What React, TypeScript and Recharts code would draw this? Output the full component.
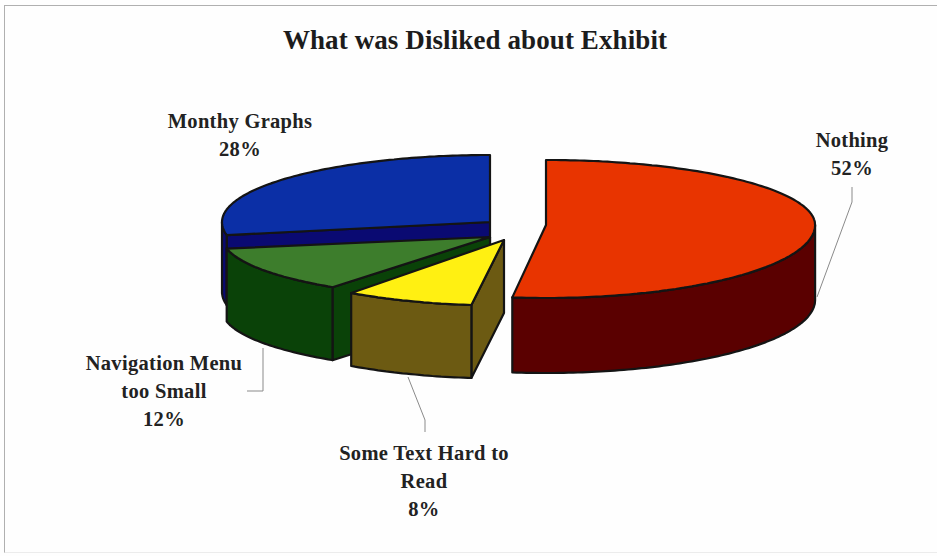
import React from 'react';
import { PieChart, Pie } from 'recharts';

// Survey answers, listed counter-clockwise from 12 o'clock so the front slices paint last
const categories = ['Monthy Graphs', 'Navigation Menu too Small', 'Some Text Hard to Read', 'Nothing'];
const shares = [28, 12, 8, 52];
const labelLines = [['Monthy Graphs'], ['Navigation Menu', 'too Small'], ['Some Text Hard to', 'Read'], ['Nothing']];

const pieData = categories.map((name, i) => ({ name, value: shares[i] }));

const OUTER_RADIUS = 268;
const CENTER_X = 500;
const CENTER_Y = 232;

// Exploded offset, tilt and colours for each slice
const sliceStyles = [
    { dx: -10, dy: -10, rx: 1, ryBack: 67, ryFront: 70, depth: 70, top: '#0b2fa6', side: '#0a0a72' },
    { dx: -10, dy: 5, rx: 1, ryBack: 62, ryFront: 62, depth: 73, top: '#3d7d2c', side: '#0a4208' },
    { dx: 4, dy: 8, rx: 0.97, ryBack: 65.5, ryFront: 65.5, depth: 73, top: '#fff012', side: '#6c5a12' },
    { dx: 46, dy: -7, rx: 1.004, ryBack: 65, ryFront: 73, depth: 75, top: '#e83400', side: '#5a0000' },
];

const labelSpots = [
    { x: 240, y: 128 },
    { x: 164, y: 370 },
    { x: 424, y: 460 },
    { x: 852, y: 147 },
];
const LINE_HEIGHT = 28;

const leaders = [
    null,
    '263,348 263,391 247,391',
    '408,377 425,420 425,432',
    '852,187 852,202 817,297',
];

const toRad = (deg: number) => (deg * Math.PI) / 180;

const Slice3D = (props: any) => {
    const { cx, cy, outerRadius, startAngle, endAngle, index } = props;
    const s = sliceStyles[index];
    const ox = cx + s.dx;
    const oy = cy + s.dy;
    const rx = outerRadius * s.rx;
    const a0 = Math.min(startAngle, endAngle);
    const a1 = Math.max(startAngle, endAngle);

    const rim = (deg: number): [number, number] => {
        const sin = Math.sin(toRad(deg));
        return [ox + rx * Math.cos(toRad(deg)), oy - (sin > 0 ? s.ryBack : s.ryFront) * sin];
    };
    const arc = (from: number, to: number) => {
        const pts: [number, number][] = [];
        for (let d = from; d < to; d += 1) pts.push(rim(d));
        pts.push(rim(to));
        return pts;
    };
    const toPath = (pts: [number, number][]) =>
        'M' + pts.map(p => `${p[0].toFixed(1)},${p[1].toFixed(1)}`).join('L') + 'Z';

    const walls: string[] = [];
    // cut face on the leading edge, only when it turns towards the viewer
    if (Math.cos(toRad(a1)) < -0.001) {
        const e = rim(a1);
        walls.push(toPath([[ox, oy], e, [e[0], e[1] + s.depth], [ox, oy + s.depth]]));
    }
    // outer rim wall, only the front half of the ellipse shows
    const from = Math.max(a0, 180);
    const to = Math.min(a1, 360);
    if (to > from) {
        const pts = arc(from, to);
        const lower = pts.map(p => [p[0], p[1] + s.depth] as [number, number]).reverse();
        walls.push(toPath([...pts, ...lower]));
    }

    return (
        <g>
            {walls.map((d, i) => (
                <path key={i} d={d} fill={s.side} stroke="#141414" strokeWidth={2.2} strokeLinejoin="round" />
            ))}
            <path d={toPath([[ox, oy], ...arc(a0, a1)])} fill={s.top} stroke="#141414" strokeWidth={2.2} strokeLinejoin="round" />
        </g>
    );
};

const renderLabel = (props: any) => {
    const { index, value } = props;
    const spot = labelSpots[index];
    const lines = [...labelLines[index], `${value}%`];
    return (
        <text
            key={index}
            textAnchor="middle"
            fontFamily="'Liberation Serif', serif"
            fontWeight="bold"
            fontSize={20.5}
            letterSpacing={0.3}
            fill="#222"
        >
            {lines.map((line, i) => (
                <tspan key={i} x={spot.x} y={spot.y + i * LINE_HEIGHT}>
                    {line}
                </tspan>
            ))}
        </text>
    );
};

const renderLeader = (props: any) => {
    const pts = leaders[props.index];
    if (!pts) return <g key={props.index} />;
    return <polyline key={props.index} points={pts} fill="none" stroke="#8a8a8a" strokeWidth={1} />;
};

export default function App() {
    return (
        <div style={{ position: 'absolute', left: 0, top: 0, width: 937, height: 556, background: '#fefefe', overflow: 'hidden' }}>
            <div
                style={{
                    position: 'absolute',
                    left: 4,
                    top: 5,
                    width: 940,
                    height: 548,
                    boxSizing: 'border-box',
                    borderLeft: '1.5px solid #b0b0b0',
                    borderTop: '1.5px solid #b0b0b0',
                    borderBottom: '1px solid #ececec',
                }}
            />
            <div
                style={{
                    position: 'absolute',
                    left: 0,
                    top: 25,
                    width: 950,
                    textAlign: 'center',
                    fontFamily: "'Liberation Serif', serif",
                    fontWeight: 'bold',
                    fontSize: 27,
                    letterSpacing: 0.1,
                    color: '#1c1c1c',
                }}
            >
                What was Disliked about Exhibit
            </div>
            <div style={{ position: 'absolute', left: 0, top: 0 }}>
                <PieChart width={937} height={556} margin={{ top: 0, right: 0, bottom: 0, left: 0 }}>
                    <Pie
                        data={pieData}
                        dataKey="value"
                        nameKey="name"
                        cx={CENTER_X}
                        cy={CENTER_Y}
                        outerRadius={OUTER_RADIUS}
                        startAngle={90}
                        endAngle={450}
                        paddingAngle={0}
                        shape={Slice3D}
                        label={renderLabel}
                        labelLine={renderLeader}
                        isAnimationActive={false}
                    />
                </PieChart>
            </div>
        </div>
    );
}
